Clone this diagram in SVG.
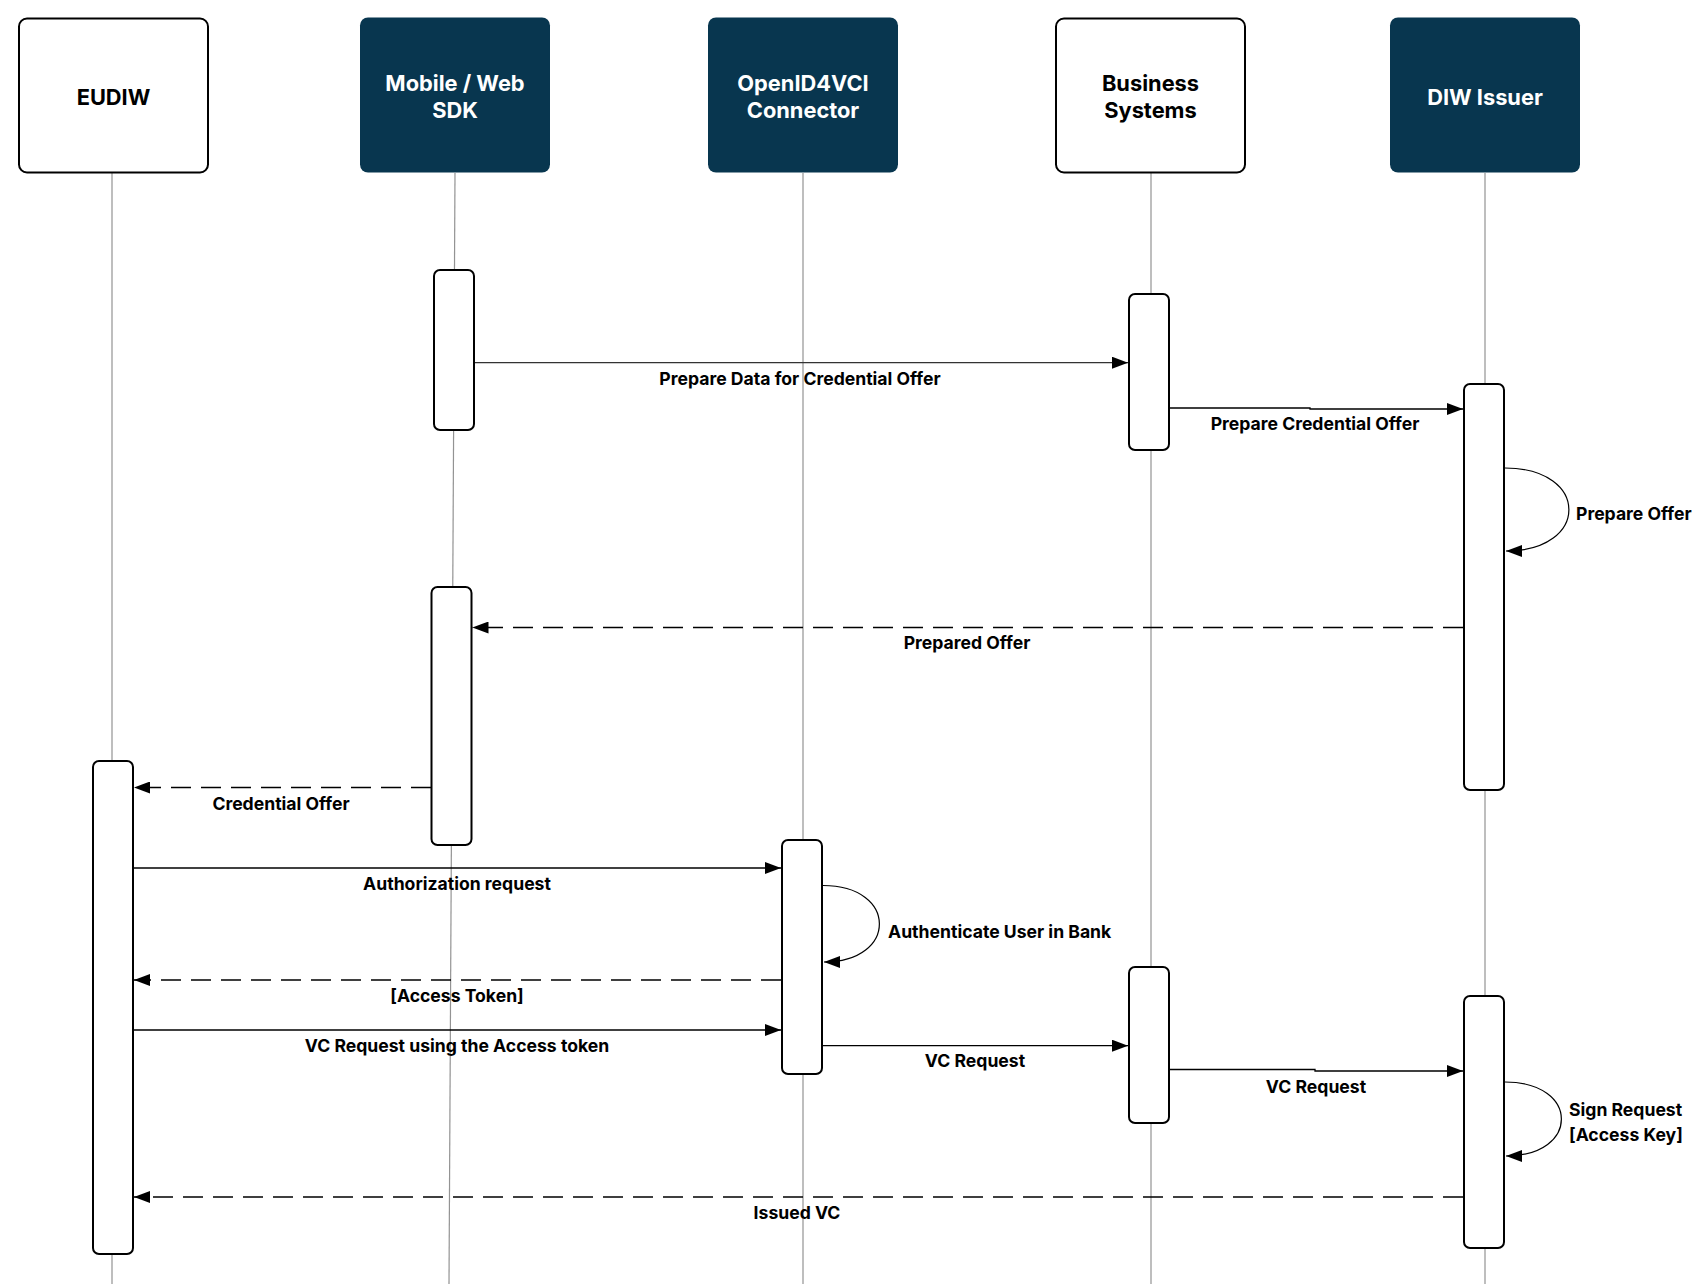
<svg xmlns="http://www.w3.org/2000/svg" width="1708" height="1284" viewBox="0 0 1708 1284">
<defs>
<style>
.hdr-w{fill:#ffffff;stroke:#000000;stroke-width:2}
.hdr-d{fill:#08364f;stroke:none}
.ht-w{font-family:Inter,"Liberation Sans",sans-serif;font-weight:700;font-size:21.8px;fill:#000000;text-anchor:middle}
.ht-d{font-family:Inter,"Liberation Sans",sans-serif;font-weight:700;font-size:21.8px;fill:#ffffff;text-anchor:middle}
.life{stroke:#939393;stroke-width:1.2;fill:none}
.act{fill:#ffffff;stroke:#000000;stroke-width:2}
.msg{stroke:#000000;stroke-width:1.3;fill:none;marker-end:url(#arr)}
.ret{stroke:#000000;stroke-width:1.3;fill:none;stroke-dasharray:20 10;marker-end:url(#arr)}
.self{stroke:#000000;stroke-width:1.2;fill:none;marker-end:url(#arr)}
.lbl{font-family:Inter,"Liberation Sans",sans-serif;font-weight:700;font-size:17.6px;fill:#000000;text-anchor:middle}
.lbl-s{font-family:Inter,"Liberation Sans",sans-serif;font-weight:700;font-size:17.6px;fill:#000000;text-anchor:start}
</style>
<marker id="arr" viewBox="0 0 16 12" refX="16" refY="6" markerWidth="16" markerHeight="12" markerUnits="userSpaceOnUse" orient="auto">
<path d="M0,0 L16,6 L0,12 Z" fill="#000000"/>
</marker>
</defs>
<rect width="1708" height="1284" fill="#ffffff"/>

<g id="lifelines">
<line class="life" x1="112" y1="173" x2="112" y2="1284"/>
<line class="life" x1="455" y1="173" x2="449" y2="1284"/>
<line class="life" x1="803" y1="173" x2="803" y2="1284"/>
<line class="life" x1="1151" y1="173" x2="1151" y2="1284"/>
<line class="life" x1="1485" y1="173" x2="1485" y2="1284"/>
</g>

<g id="node-eudiw">
<rect class="hdr-w" x="19" y="18.5" width="189" height="154" rx="8"/>
<text class="ht-w" x="113.5" y="104.5">EUDIW</text>
</g>
<g id="node-sdk">
<rect class="hdr-d" x="360" y="17.5" width="190" height="155" rx="8"/>
<text class="ht-d" x="455" y="90.5">Mobile / Web</text>
<text class="ht-d" x="455" y="117.5">SDK</text>
</g>
<g id="node-connector">
<rect class="hdr-d" x="708" y="17.5" width="190" height="155" rx="8"/>
<text class="ht-d" x="803" y="90.5">OpenID4VCI</text>
<text class="ht-d" x="803" y="117.5">Connector</text>
</g>
<g id="node-business">
<rect class="hdr-w" x="1056" y="18.5" width="189" height="154" rx="8"/>
<text class="ht-w" x="1150.5" y="90.5">Business</text>
<text class="ht-w" x="1150.5" y="117.5">Systems</text>
</g>
<g id="node-issuer">
<rect class="hdr-d" x="1390" y="17.5" width="190" height="155" rx="8"/>
<text class="ht-d" x="1485" y="104.5">DIW Issuer</text>
</g>

<g id="activations">
<rect class="act" x="434" y="270" width="40" height="160" rx="6"/>
<rect class="act" x="1129" y="294" width="40" height="156" rx="6"/>
<rect class="act" x="1464" y="384" width="40" height="406" rx="6"/>
<rect class="act" x="431.5" y="587" width="40" height="258" rx="6"/>
<rect class="act" x="93" y="761" width="40" height="493" rx="6"/>
<rect class="act" x="782" y="840" width="40" height="234" rx="6"/>
<rect class="act" x="1129" y="967" width="40" height="156" rx="6"/>
<rect class="act" x="1464" y="996" width="40" height="252" rx="6"/>
</g>

<g id="connectors">
<line class="msg" x1="475" y1="362.7" x2="1128" y2="362.7" style="stroke:#333333"/>
<path class="msg" d="M1170,408 H1310 V409 H1463"/>
<path class="self" d="M1505,468 C1590,468 1590,551 1506,551"/>
<line class="ret" x1="1463" y1="627.5" x2="472.5" y2="627.5"/>
<line class="ret" x1="431" y1="787.5" x2="134" y2="787.5"/>
<line class="msg" x1="134" y1="868" x2="781" y2="868"/>
<path class="self" d="M823,885.5 C898,885.5 898,962 824,962"/>
<line class="ret" x1="781" y1="980" x2="134" y2="980"/>
<line class="msg" x1="134" y1="1030" x2="781" y2="1030"/>
<line class="msg" x1="823" y1="1045.7" x2="1128" y2="1045.7"/>
<path class="msg" d="M1170,1069.5 H1315 V1071 H1463"/>
<path class="self" d="M1505,1082 C1580,1082 1580,1156 1506,1156"/>
<line class="ret" x1="1463" y1="1197" x2="134" y2="1197"/>
</g>

<g id="labels">
<text class="lbl" x="800" y="385">Prepare Data for Credential Offer</text>
<text class="lbl" x="1315" y="430">Prepare Credential Offer</text>
<text class="lbl-s" x="1576" y="520">Prepare Offer</text>
<text class="lbl" x="967" y="649">Prepared Offer</text>
<text class="lbl" x="281" y="810">Credential Offer</text>
<text class="lbl" x="457" y="890">Authorization request</text>
<text class="lbl-s" x="888" y="938">Authenticate User in Bank</text>
<text class="lbl" x="457" y="1002">[Access Token]</text>
<text class="lbl" x="457" y="1052">VC Request using the Access token</text>
<text class="lbl" x="975" y="1067">VC Request</text>
<text class="lbl" x="1316" y="1093">VC Request</text>
<text class="lbl-s" x="1569" y="1116">Sign Request</text>
<text class="lbl-s" x="1569" y="1141">[Access Key]</text>
<text class="lbl" x="797" y="1219">Issued VC</text>
</g>
</svg>
